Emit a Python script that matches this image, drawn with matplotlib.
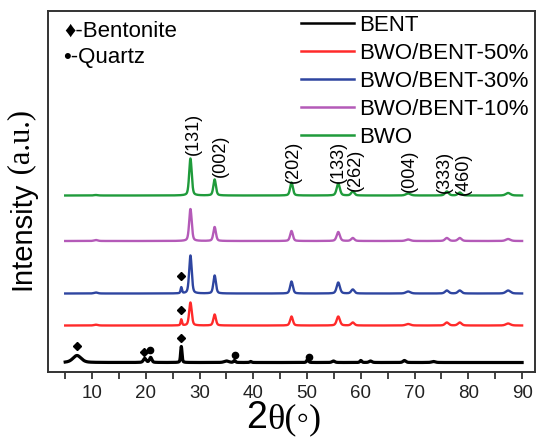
import numpy as np
import matplotlib.pyplot as plt

# peak positions (2theta) and heights
bwo_pos = [10.7, 28.3, 32.8, 47.1, 55.8, 58.5, 68.8, 76.0, 78.4, 87.4]
bwo_wid = [0.4, 0.28, 0.28, 0.3, 0.35, 0.35, 0.5, 0.4, 0.4, 0.5]
h_bwo = [0.5, 37, 16, 13, 12, 4, 2, 4, 3, 2.5]
h_10 = [1.0, 32, 14, 10, 9, 3, 1.5, 3, 3, 2]
h_30 = [1.0, 38, 18, 12, 11, 4, 2, 3, 3, 3]
h_50 = [0.8, 23, 11, 9, 9, 3, 1.5, 3, 3, 2]
bent_peak_30 = 6
bent_peak_50 = 6

bent_pos = [7.2, 19.8, 20.9, 26.6, 35.0, 36.5, 39.5, 50.1, 54.9, 60.0, 61.8, 68.1, 73.5]
bent_wid = [0.9, 0.3, 0.25, 0.15, 0.5, 0.2, 0.2, 0.2, 0.3, 0.2, 0.3, 0.3, 0.4]
h_bent = [7, 4, 5, 16, 1.5, 2, 1, 3, 1.5, 2, 1.5, 2, 1]

baselines = [9.5, 46.5, 78.5, 131, 176.5]
labels = ['BENT', 'BWO/BENT-50%', 'BWO/BENT-30%', 'BWO/BENT-10%', 'BWO']
colors = ['#000000', '#ff2a2a', '#2e45a0', '#b45ab8', '#1f9b3b']

# phase markers (x, y)
diamond_x = [7.2, 19.7, 26.6, 26.6, 26.6]
diamond_y = [26, 20, 34, 62, 96]
dot_x = [20.8, 36.6, 50.3]
dot_y = [22, 17, 15]

hkl = ['(131)', '(002)', '(202)', '(133)', '(262)', '(004)', '(333)', '(460)']
hkl_x = [28.8, 33.8, 47.4, 55.8, 58.9, 69.0, 75.6, 79.0]
hkl_y = [217, 195, 189, 189, 181, 180, 179, 177]


def profile(x, pos, wid, hts):
    y = np.zeros_like(x)
    for p, w, h in zip(pos, wid, hts):
        lor = 1.0 / (1 + ((x - p) / w) ** 2)
        gau = np.exp(-np.log(2) * ((x - p) / w) ** 2)
        y += h * (0.4 * lor + 0.6 * gau)
    return y


x = np.linspace(5, 90, 4000)
curves = [
    profile(x, bent_pos, bent_wid, h_bent),
    profile(x, bwo_pos + [26.6], bwo_wid + [0.15], h_50 + [bent_peak_50]),
    profile(x, bwo_pos + [26.6], bwo_wid + [0.15], h_30 + [bent_peak_30]),
    profile(x, bwo_pos, bwo_wid, h_10),
    profile(x, bwo_pos, bwo_wid, h_bwo),
]

plt.rcParams['font.family'] = ['Liberation Sans', 'DejaVu Sans']
fig = plt.figure(figsize=(5.36, 4.37), dpi=100)
ax = fig.add_axes([48 / 536, 65 / 437, 487 / 536, 361.5 / 437])

for i in range(5):
    lw = 2.3 if i == 0 else 1.7
    ax.plot(x, baselines[i] + curves[i], color=colors[i], lw=lw, label=labels[i])

ax.plot(diamond_x, diamond_y, 'D', color='black', ms=4.5, ls='none')
ax.plot(dot_x, dot_y, 'o', color='black', ms=4.5, ls='none')

for t, xx, yy in zip(hkl, hkl_x, hkl_y):
    ax.text(xx, yy, t, rotation=90, ha='center', va='bottom', fontsize=13)

ax.set_xlim(1.8, 92.4)
ax.set_ylim(0, 361.5)
ax.set_xticks(range(10, 91, 10))
ax.set_xticks(range(5, 91, 10), minor=True)
ax.set_yticks([])
ax.tick_params(axis='x', which='both', direction='out', length=5, width=1.2,
               labelsize=13.5, pad=4, colors='#222222')
for s in ax.spines.values():
    s.set_linewidth(1.4)
    s.set_color('#333333')

leg = ax.legend(loc='upper left', bbox_to_anchor=(301 / 536, (437 - 15) / 437),
                bbox_transform=fig.transFigure, frameon=False, fontsize=16,
                borderpad=0, borderaxespad=0, handlelength=2.4,
                handletextpad=0.2, labelspacing=0.31)
for ln in leg.get_lines():
    ln.set_linewidth(1.8)

fig.text(64 / 536, 1 - 31 / 437, '\u2666-Bentonite', fontsize=16, va='center')
fig.text(63 / 536, 1 - 58 / 437, '\u2022-Quartz', fontsize=16, va='center')

# y label: sans + serif part
t1 = fig.text(22 / 536, 1 - 290 / 437, 'Intensity', rotation=90, ha='center',
              va='bottom', fontsize=21)
ax.annotate(' (a.u.)', xy=(0.5, 1), xycoords=t1, rotation=90, ha='center',
            va='bottom', fontsize=22, family=['Liberation Serif', 'DejaVu Serif'])

# x label
t2 = fig.text(246 / 536, 1 - 436 / 437, '2', ha='left', va='bottom', fontsize=27)
ax.annotate('\u03b8(\u25e6)', xy=(1, 0), xycoords=t2, ha='left', va='bottom',
            fontsize=26, family=['Liberation Serif', 'DejaVu Serif'])

fig.savefig('out.png', dpi=100)
